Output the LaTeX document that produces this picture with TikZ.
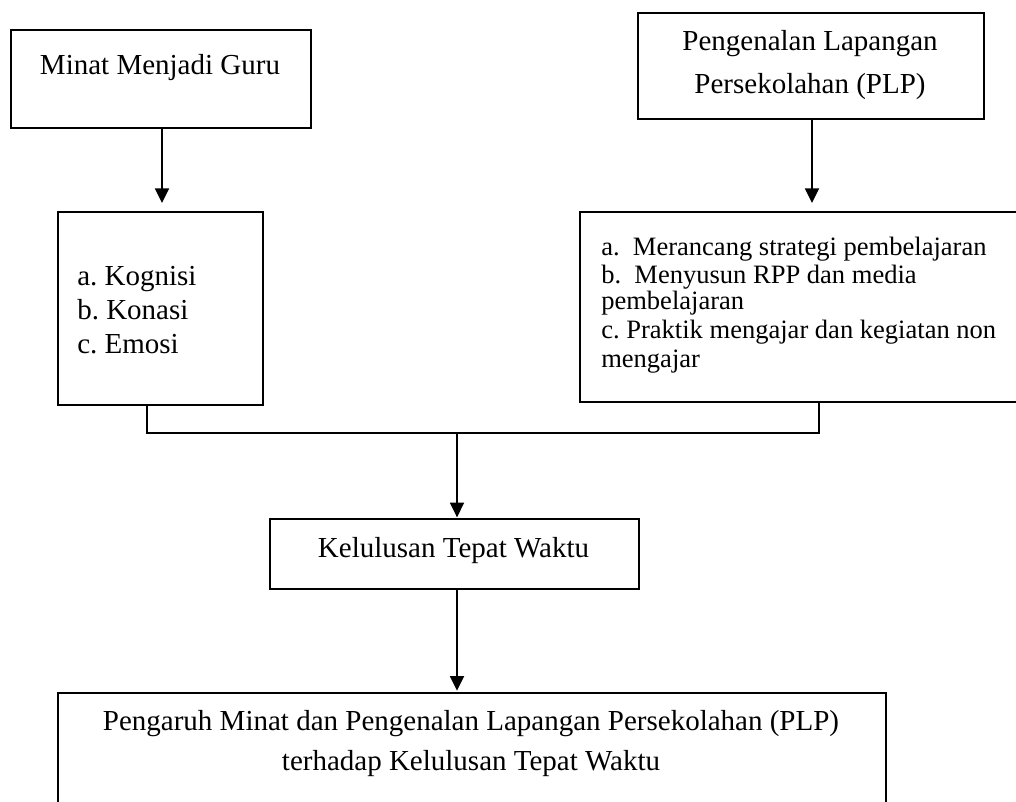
\documentclass[tikz,border=0pt]{standalone}
\usepackage{fontspec}
\setmainfont{Liberation Serif}
\usetikzlibrary{arrows.meta,calc}
\frenchspacing
\tikzset{
  box/.style={draw, line width=1.5pt, rectangle, inner sep=0pt, anchor=north west},
  lbl/.style={inner sep=0pt, font=\fontsize{21.75pt}{25pt}\selectfont},
  arr/.style={line width=1.4pt, -{Triangle[length=11pt,width=10.5pt]}},
  con/.style={line width=0.9pt}
}
\begin{document}
\begin{tikzpicture}[x=0.75pt,y=-0.75pt]
\useasboundingbox (0,0) rectangle (1016,801);
\clip (0,0) rectangle (1016,801);
% boxes
\node[box, minimum width=225pt, minimum height=73.5pt] (b1) at (10,29) {};
\node[box, minimum width=259.5pt, minimum height=79.5pt] (b2) at (637,12) {};
\node[box, minimum width=153.75pt, minimum height=144.75pt] (b3) at (57,211) {};
\node[box, minimum width=330.75pt, minimum height=142.5pt] (b4) at (579,211) {};
\node[box, minimum width=276.75pt, minimum height=52.5pt] (b5) at (269,518) {};
\node[box, minimum width=621pt, minimum height=85.5pt] (b6) at (57,692) {};
% texts
\node[lbl, anchor=base] (t1) at (160,74) {Minat Menjadi Guru};
\node[lbl, anchor=base] (t2a) at (810,50) {Pengenalan Lapangan};
\node[lbl, anchor=base] (t2b) at (810,93) {Persekolahan (PLP)};
\node[lbl, anchor=base west] (t3a) at (77,285) {a. Kognisi};
\node[lbl, anchor=base west] (t3b) at (77,319) {b. Konasi};
\node[lbl, anchor=base west] (t3c) at (77,353) {c. Emosi};
\node[lbl, anchor=base west, font=\fontsize{19.9pt}{22pt}\selectfont] (t4a) at (601,255) {a.\ \ Merancang strategi pembelajaran};
\node[lbl, anchor=base west, font=\fontsize{19.9pt}{22pt}\selectfont] (t4b) at (601,283) {b.\ \ Menyusun RPP dan media};
\node[lbl, anchor=base west, font=\fontsize{19.9pt}{22pt}\selectfont] (t4c) at (601,309) {pembelajaran};
\node[lbl, anchor=base west, font=\fontsize{19.9pt}{22pt}\selectfont] (t4d) at (601,338) {c. Praktik mengajar dan kegiatan non};
\node[lbl, anchor=base west, font=\fontsize{19.9pt}{22pt}\selectfont] (t4e) at (601,367) {mengajar};
\node[lbl, anchor=base] (t5) at (453.5,557) {Kelulusan Tepat Waktu};
\node[lbl, anchor=base] (t6a) at (471,730) {Pengaruh Minat dan Pengenalan Lapangan Persekolahan (PLP)};
\node[lbl, anchor=base] (t6b) at (471,770) {terhadap Kelulusan Tepat Waktu};
% junction points
\coordinate (a1) at (162,127);
\coordinate (a2) at (812,118);
\coordinate (jl) at (147,433);
\coordinate (jm) at (457,433);
\coordinate (jr) at (819,433);
% connectors
\draw[arr, shorten >=6pt] (b1.south -| a1) -- (a1 |- b3.north);
\draw[arr, shorten >=6pt] (b2.south -| a2) -- (a2 |- b4.north);
\draw[con] (b3.south -| jl) -- (jl) -- (jr) -- (b4.south -| jr);
\draw[arr, shorten >=0.5pt] (jm) -- (jm |- b5.north);
\draw[arr, shorten >=1pt] (b5.south -| jm) -- (jm |- b6.north);
\end{tikzpicture}
\end{document}
